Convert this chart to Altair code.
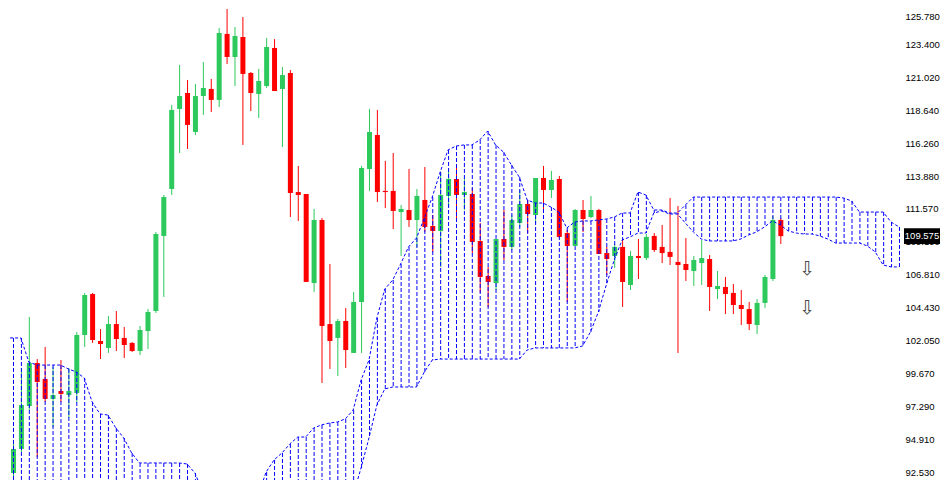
import altair as alt
import pandas as pd

# ---- candles (bar index 0..98) ----
opens = [91.74, 92.53, 94.26, 97.35, 100.45, 99.30, 97.86, 98.43, 98.14, 98.29,
         102.46, 105.41, 102.03, 101.53, 103.25, 102.25, 101.89, 101.31, 102.75, 104.19,
         109.59, 112.97, 118.73, 119.88, 117.07, 119.66, 120.17, 119.38, 124.13, 122.47,
         123.91, 121.32, 119.81, 120.38, 123.12, 120.17, 121.32, 112.75, 112.61, 106.20,
         110.74, 103.25, 102.25, 103.47, 101.17, 104.84, 114.41, 116.86, 112.83, 112.83,
         111.31, 111.46, 110.74, 112.18, 110.31, 109.95, 112.47, 113.69, 112.54, 112.61,
         109.23, 106.71, 106.20, 109.37, 108.80, 110.52, 111.89, 111.10, 113.76, 112.90,
         113.69, 109.80, 108.87, 111.46, 110.95, 111.46, 108.36, 108.15, 108.80, 106.06,
         108.15, 108.00, 109.59, 108.80, 108.44, 107.72, 107.57, 107.07, 107.64, 107.93,
         105.77, 105.92, 105.49, 104.62, 104.33, 103.18, 104.77, 106.49, 110.74]
highs = [92.89, 94.91, 100.09, 103.76, 100.73, 101.60, 100.16, 100.66, 100.09, 102.68,
         105.49, 105.49, 102.89, 103.83, 104.19, 103.04, 101.96, 103.11, 104.33, 109.88,
         112.54, 119.02, 121.89, 120.81, 120.53, 122.11, 120.89, 124.56, 125.92, 124.63,
         125.35, 121.39, 121.61, 123.84, 123.76, 121.75, 121.53, 114.63, 112.61, 111.53,
         110.88, 107.57, 103.61, 104.41, 105.56, 114.63, 118.73, 118.66, 114.99, 115.56,
         111.82, 114.41, 112.97, 114.55, 111.10, 114.12, 114.27, 114.77, 113.76, 113.04,
         110.52, 107.36, 109.37, 111.46, 111.10, 112.90, 112.18, 113.76, 114.63, 114.27,
         113.91, 110.02, 111.53, 112.18, 112.47, 111.53, 108.80, 109.01, 109.30, 108.51,
         109.37, 109.73, 109.80, 110.38, 112.32, 111.75, 109.44, 108.15, 109.30, 108.22,
         107.07, 106.64, 106.13, 105.70, 104.84, 105.05, 106.78, 111.03, 110.88]
lows = [91.31, 92.17, 94.04, 97.06, 93.68, 97.64, 95.84, 97.64, 96.49, 97.64,
        101.60, 101.89, 100.73, 101.17, 101.31, 100.81, 101.24, 101.02, 101.45, 104.05,
        105.20, 112.54, 115.56, 115.85, 116.86, 118.30, 118.51, 118.87, 121.97, 120.38,
        116.14, 118.58, 118.08, 120.24, 120.02, 115.99, 110.95, 110.67, 106.28, 105.56,
        99.01, 100.02, 99.51, 100.09, 101.17, 101.17, 112.83, 112.03, 111.60, 110.09,
        108.15, 110.24, 108.80, 109.88, 108.44, 107.36, 111.67, 110.81, 111.46, 108.36,
        105.49, 104.48, 105.70, 107.86, 108.58, 110.24, 109.80, 110.52, 111.53, 112.32,
        109.44, 104.84, 108.87, 109.88, 110.88, 108.29, 106.78, 107.28, 104.48, 105.70,
        106.49, 107.86, 108.44, 107.64, 107.50, 101.17, 106.35, 105.99, 106.06, 104.19,
        105.05, 103.97, 103.97, 103.18, 102.82, 102.53, 104.41, 106.35, 109.01]
closes = [92.60, 94.26, 97.42, 100.45, 99.08, 97.86, 98.14, 98.22, 98.43, 102.46,
          105.34, 102.10, 101.81, 103.25, 102.17, 101.74, 101.31, 102.82, 104.12, 109.73,
          112.39, 118.66, 119.66, 117.58, 119.66, 120.24, 119.38, 124.20, 122.47, 123.98,
          121.25, 119.88, 120.74, 123.19, 120.02, 121.17, 112.68, 112.54, 106.28, 110.74,
          103.11, 102.03, 103.47, 101.38, 104.84, 114.48, 117.07, 112.75, 112.75, 111.39,
          111.53, 110.74, 112.47, 110.24, 109.95, 112.54, 113.69, 112.54, 112.75, 109.16,
          106.64, 106.28, 109.37, 108.80, 110.74, 111.89, 111.17, 113.76, 112.90, 113.62,
          109.52, 108.87, 111.46, 110.81, 111.46, 108.29, 107.93, 108.80, 106.28, 108.15,
          108.00, 109.52, 108.58, 108.36, 108.08, 107.50, 107.14, 107.86, 108.00, 105.92,
          105.99, 105.41, 104.62, 104.33, 103.25, 104.77, 106.64, 110.74, 109.575]

# ---- Ichimoku cloud spans (bar index 0..113); 89.0 = below the visible range ----
span_a = [102.25, 102.25, 102.25, 100.52, 100.30, 100.30, 100.30, 100.30, 100.02, 99.80,
          99.37, 97.64, 96.78, 96.70, 95.77, 95.05, 93.97, 93.25, 93.25, 93.25,
          93.25, 93.25, 93.25, 93.18, 92.53, 91.16, 89.0, 89.0, 89.0, 89.0,
          89.0, 89.0, 90.95, 92.60, 93.47, 93.97, 94.62, 95.12, 95.12, 95.77,
          95.99, 96.13, 96.20, 96.42, 97.06, 99.22, 100.66, 103.69, 105.77, 106.42,
          107.57, 108.80, 109.44, 110.88, 112.39, 114.19, 115.78, 116.06, 116.14, 116.14,
          116.50, 117.14, 116.14, 115.63, 114.70, 113.83, 112.18, 111.96, 111.96, 111.67,
          111.31, 110.16, 110.59, 110.67, 110.67, 110.74, 110.81, 110.95, 111.24, 111.24,
          112.75, 112.54, 111.46, 111.46, 111.24, 111.24, 111.82, 112.39, 112.39, 112.39,
          112.39, 112.39, 112.39, 112.39, 112.39, 112.39, 112.39, 112.39, 112.39, 112.39,
          112.39, 112.39, 112.39, 112.39, 112.39, 112.39, 112.32, 112.11, 111.31, 111.31,
          111.31, 111.31, 110.59, 110.24]
span_b = [89.0] * 44 + [
          90.95, 92.89, 95.05, 97.42, 98.58, 98.72, 98.72, 98.72, 98.72, 99.80,
          100.66, 100.73, 100.73, 100.73, 100.73, 100.73, 100.73, 100.73, 100.73, 100.73,
          100.73, 100.73, 101.38, 101.53, 101.53, 101.53, 101.53, 101.53, 101.53, 101.67,
          102.68, 104.12, 106.06, 107.86, 109.30, 109.52, 109.80, 109.80, 111.24, 111.39,
          111.17, 111.17, 110.52, 109.88, 109.37, 109.23, 109.23, 109.23, 109.23, 109.37,
          109.66, 109.88, 110.24, 110.67, 110.38, 109.95, 109.80, 109.73, 109.73, 109.59,
          109.37, 109.08, 109.08, 109.08, 109.08, 108.87, 108.44, 107.50, 107.36, 107.36]

tick_values = [125.78, 123.40, 121.02, 118.64, 116.26, 113.88, 111.57, 109.19,
               106.81, 104.43, 102.05, 99.67, 97.29, 94.91, 92.53]
arrow_bars = [101, 101]
arrow_prices = [107.18, 104.40]
last_price = [109.575]

GREEN = "#2dc95c"
RED = "#ff0000"
BLUE = "#0000ff"

candles = pd.DataFrame({
    "i": list(range(len(opens))),
    "o": opens, "h": highs, "l": lows, "c": closes,
})
candles["dir"] = ["up" if c >= o else "down" for o, c in zip(opens, closes)]

cloud = pd.DataFrame({"i": list(range(len(span_a))), "a": span_a, "b": span_b})
arrows = pd.DataFrame({"i": arrow_bars, "p": arrow_prices, "t": ["\u21e9", "\u21e9"]})
tag = pd.DataFrame({"p": last_price, "t": ["109.575"]})

xs = alt.Scale(domain=[1, 112.75], nice=False, zero=False)
ys = alt.Scale(domain=[92.026, 125.996], nice=False, zero=False)
X = alt.X("i:Q", scale=xs, axis=None)
col = alt.Color("dir:N", scale=alt.Scale(domain=["up", "down"], range=[GREEN, RED]), legend=None)

price_axis = alt.Axis(
    orient="right", values=tick_values, format=".3f", title=None,
    domain=False, ticks=False, grid=False, labelPadding=3,
    labelFont="Liberation Sans", labelFontSize=9.5, labelColor="#000000",
    labelFlush=False, labelOverlap=False,
    labelBaseline=alt.condition("datum.value > 125", alt.value("top"), alt.value("middle")),
)


def Y(field):
    return alt.Y(field, scale=ys, axis=price_axis)


wicks = alt.Chart(candles).mark_rule(strokeWidth=1, xOffset=0.5, clip=True).encode(
    x=X, y=Y("l:Q"), y2="h:Q", color=col,
)
bodies = alt.Chart(candles).mark_bar(size=5, xOffset=0.5, clip=True).encode(
    x=X, y=Y("o:Q"), y2="c:Q", color=col,
)
hatch = alt.Chart(cloud).mark_rule(color=BLUE, strokeWidth=1, strokeDash=[4, 2],
                                   xOffset=0.5, clip=True).encode(
    x=X, y=Y("a:Q"), y2="b:Q")
line_a = alt.Chart(cloud).mark_line(color=BLUE, strokeWidth=1, strokeDash=[3, 2],
                                    clip=True).encode(x=X, y=Y("a:Q"))
line_b = alt.Chart(cloud).mark_line(color=BLUE, strokeWidth=1, strokeDash=[3, 2],
                                    clip=True).encode(x=X, y=Y("b:Q"))
arrow_marks = alt.Chart(arrows).mark_text(
    font="DejaVu Sans", fontSize=19, color="#4a4a4a", baseline="middle", align="center", dx=3
).encode(x=X, y=Y("p:Q"), text="t:N")

tag_box = alt.Chart(tag).mark_point(
    shape="M-1,-0.44L1,-0.44L1,0.44L-1,0.44Z", filled=True, color="#000000",
    opacity=1, size=1296
).encode(x=alt.value(914), y=Y("p:Q"))
tag_text = alt.Chart(tag).mark_text(
    font="Liberation Sans", fontSize=9.5, color="#ffffff", align="center", baseline="middle"
).encode(x=alt.value(914), y=Y("p:Q"), text="t:N")

chart = alt.layer(
    wicks, bodies, hatch, line_a, line_b, arrow_marks, tag_box, tag_text
).properties(
    width=894, height=472,
    autosize=alt.AutoSizeParams(type="none"),
    padding={"left": 0, "top": 0, "right": 38, "bottom": 0},
).configure(background="#ffffff").configure_view(strokeWidth=0).configure_axis(labelOverlap=False)

chart.save("out.html", embed_options={"renderer": "svg", "actions": False})
